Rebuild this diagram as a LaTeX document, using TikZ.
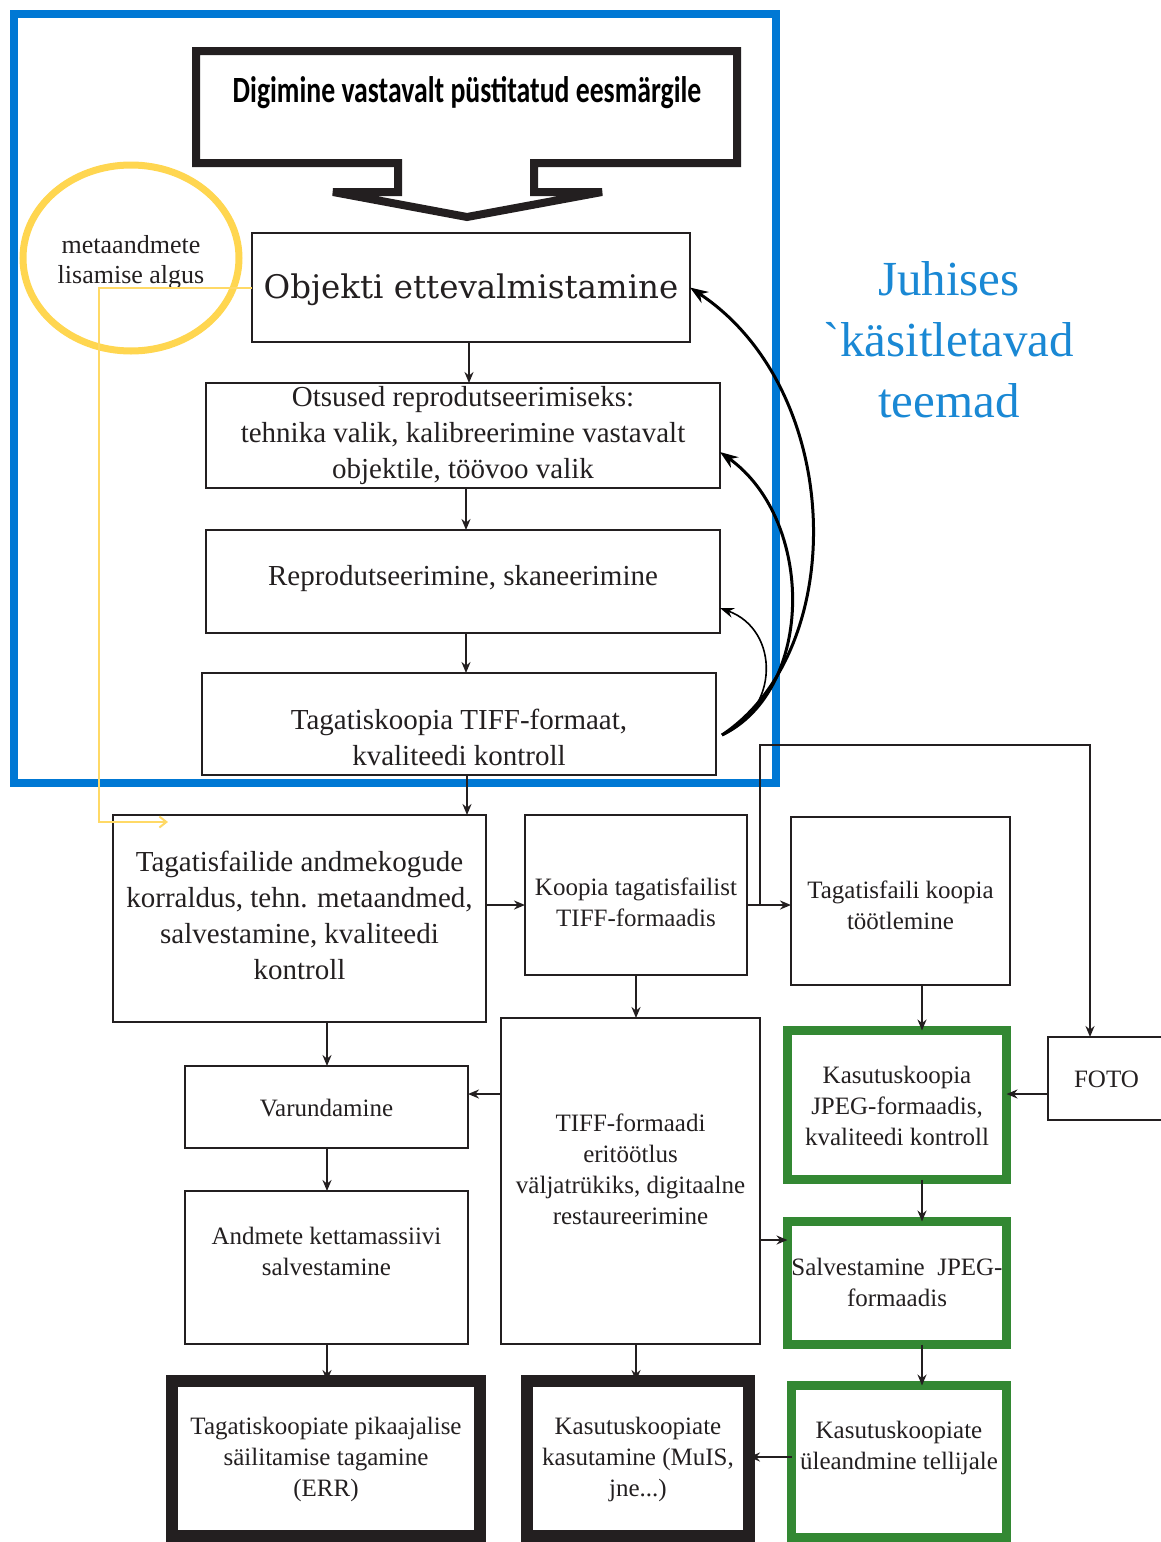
\documentclass[tikz,border=0pt]{standalone}
\usepackage{fontspec}
\setmainfont{Liberation Serif}
\newfontfamily\objfont{DejaVu Serif}
\newfontfamily\ttlfont{Carlito}
\newfontfamily\bluefont{Liberation Serif}[Ligatures=TeXOff]
\usetikzlibrary{arrows.meta,calc,shapes.geometric}

\definecolor{frameblue}{RGB}{0,120,212}
\definecolor{textblue}{RGB}{26,136,212}
\definecolor{boxgreen}{RGB}{51,136,51}
\definecolor{ringyellow}{RGB}{255,214,80}
\definecolor{lineyellow}{RGB}{255,217,102}
\definecolor{ink}{RGB}{35,31,32}

\tikzset{
  box/.style={draw=ink, line width=2pt, inner sep=0pt, outer sep=0pt},
  greenbox/.style={box, draw=boxgreen, line width=9pt},
  heavybox/.style={box, line width=12pt},
  bigtxt/.style={align=center, text=ink, inner sep=0pt, font=\fontsize{29}{36}\selectfont},
  smalltxt/.style={align=center, text=ink, inner sep=0pt, font=\fontsize{25}{31}\selectfont},
  objtxt/.style={align=center, text=ink, inner sep=0pt, font=\objfont\fontsize{32.5}{36}\selectfont},
  conn/.style={draw=ink, line width=2pt, -{Stealth[length=11pt,width=9pt]}},
  loopconn/.style={draw=black, line width=3pt, -{Stealth[length=18pt,width=13pt]}},
  thinloop/.style={draw=black, line width=1.6pt, -{Stealth[length=14pt,width=10pt]}},
  yline/.style={draw=lineyellow, line width=2pt, -{Straight Barb[length=7pt,width=11pt]}},
}

\newcommand\bx[9]{%
  \node[#6, minimum width={(#4)-(#2)}, minimum height={(#5)-(#3)}] (#1) at ({((#2)+(#4))/2},{((#3)+(#5))/2}) {};
  \node[#7] (#1-t) at ($(#1.center)+(#8)$) {#9};}

\begin{document}
\begin{tikzpicture}[x=1pt,y=-1pt]
\useasboundingbox (0,0) rectangle (1161,1542);

% blue frame
\draw[frameblue, line width=8pt] (14,14) rectangle (776,783);

% title arrow
\draw[ink, line width=8pt, line join=miter] (196,51) -- (737,51) -- (737,163) -- (534,163) -- (534,192) -- (602,192) -- (467,217) -- (333,192) -- (398,192) -- (398,163) -- (196,163) -- cycle;
\node[inner sep=0pt, text=black] (title) at (467,93) {\scalebox{0.75}[1]{\ttlfont\bfseries\fontsize{37}{37}\selectfont Digimine vastavalt püstitatud eesmärgile}};

% yellow ring
\node[draw=ringyellow, line width=7pt, ellipse, inner sep=0pt, minimum width=216pt, minimum height=186pt, text=ink, font=\fontsize{26}{30}\selectfont] (ring) at (131,258) {};
\node[align=center, text=ink, inner sep=0pt, font=\fontsize{26}{30}\selectfont] (ring-t) at (131,262) {metaandmete\\lisamise algus};

% boxes
\bx{obj}{252}{233}{690}{342}{box}{objtxt}{0,2}{Objekti ettevalmistamine}
\bx{ots}{206}{383}{720}{488}{box}{bigtxt}{0,0}{Otsused reprodutseerimiseks:\\tehnika valik, kalibreerimine vastavalt\\objektile, töövoo valik}
\bx{rep}{206}{530}{720}{633}{box}{bigtxt}{0,-3}{Reprodutseerimine, skaneerimine}
\bx{tag}{202}{673}{716}{775}{box}{bigtxt}{0,13}{Tagatiskoopia TIFF-formaat,\\kvaliteedi kontroll}
\bx{tf}{113}{815}{486}{1022}{box}{bigtxt}{0,-3}{Tagatisfailide andmekogude\\korraldus, tehn. metaandmed,\\salvestamine, kvaliteedi\\kontroll}
\bx{kop}{525}{815}{747}{975}{box}{smalltxt}{0,7}{Koopia tagatisfailist\\TIFF-formaadis}
\bx{tkt}{791}{817}{1010}{985}{box}{smalltxt}{0,4}{Tagatisfaili koopia\\töötlemine}
\bx{foto}{1048}{1037}{1175}{1120}{box}{smalltxt}{-5,1}{FOTO}
\bx{kjpeg}{787.5}{1030.5}{1006.5}{1179.5}{greenbox}{smalltxt}{0,1}{Kasutuskoopia\\JPEG-formaadis,\\kvaliteedi kontroll}
\bx{salv}{787.5}{1221.5}{1006.5}{1344.5}{greenbox}{smalltxt}{0,-1}{Salvestamine\ \ JPEG-\\formaadis}
\bx{ule}{791.5}{1385.5}{1006.5}{1537.5}{greenbox}{smalltxt}{0,-14}{Kasutuskoopiate\\üleandmine tellijale}
\bx{tiff}{501}{1018}{760}{1344}{box}{smalltxt}{0,-12}{TIFF-formaadi\\eritöötlus\\väljatrükiks, digitaalne\\restaureerimine}
\bx{varu}{185}{1066}{468}{1148}{box}{smalltxt}{0,1}{Varundamine}
\bx{andm}{185}{1191}{468}{1344}{box}{smalltxt}{0,-16}{Andmete kettamassiivi\\salvestamine}
\bx{pika}{172}{1381}{480}{1536}{heavybox}{smalltxt}{0,1}{Tagatiskoopiate pikaajalise\\säilitamise tagamine\\(ERR)}
\bx{kasut}{527}{1381}{749}{1536}{heavybox}{smalltxt}{0,1}{Kasutuskoopiate\\kasutamine (MuIS,\\jne...)}

% blue heading
\node[align=center, text=textblue, inner sep=0pt, font=\bluefont\fontsize{49}{61}\selectfont] (juh) at (949,340) {Juhises\\`käsitletavad\\teemad};

% straight connectors
\draw[conn] (obj.south -| 469,0) -- (ots.north -| 469,0);
\draw[conn] (ots.south -| 466,0) -- (rep.north -| 466,0);
\draw[conn] (rep.south -| 466,0) -- (tag.north -| 466,0);
\draw[conn] (tag.south -| 467,0) -- (tf.north -| 467,0);
\draw[conn] (tf.east |- 0,905) -- (kop.west |- 0,905);
\draw[conn] (kop.east |- 0,905) -- (tkt.west |- 0,905);
\coordinate (br) at (760,905);
\draw[conn] (br) -- (760,745) -| (foto.north -| 1090,0);
\draw[conn] (kop.south -| 636,0) -- (tiff.north -| 636,0);
\draw[conn] (tkt.south -| 922,0) -- (kjpeg.north -| 922,0);
\draw[conn] (foto.west |- 0,1094) -- (kjpeg.east |- 0,1094);
\draw[conn] (tiff.west |- 0,1094) -- (varu.east |- 0,1094);
\draw[conn] (tiff.east |- 0,1240) -- (salv.west |- 0,1240);
\draw[conn] (kjpeg.south -| 922,0) -- (salv.north -| 922,0);
\draw[conn] (salv.south -| 922,0) -- (ule.north -| 922,0);
\draw[conn] (ule.west |- 0,1457) -- (kasut.east |- 0,1457);
\draw[conn] (tiff.south -| 636,0) -- (kasut.north -| 636,0);
\draw[conn] (tf.south -| 327,0) -- (varu.north -| 327,0);
\draw[conn] (varu.south -| 327,0) -- (andm.north -| 327,0);
\draw[conn] (andm.south -| 327,0) -- (pika.north -| 327,0);

% feedback curves
\coordinate (cs) at (722,735);
\draw[loopconn] (cs) .. controls (850,650) and (845,390) .. (obj.east);
\draw[loopconn] (cs) .. controls (815,690) and (815,520) .. (ots.east |- 0,452);
\draw[thinloop] (cs) .. controls (780,710) and (780,630) .. (rep.east |- 0,608);

% yellow metadata line
\coordinate (ytip) at (168,822);
\draw[yline] (obj.west) -- (99,287.5) -- (99,822) -- (ytip);
\end{tikzpicture}
\end{document}
